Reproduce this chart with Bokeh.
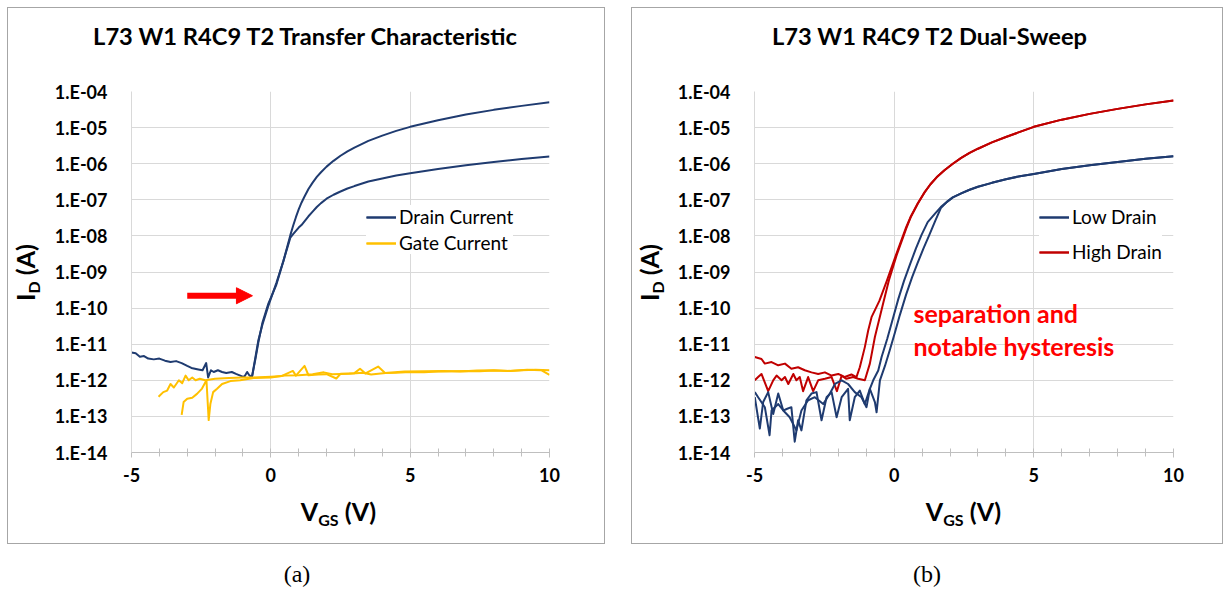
from bokeh.plotting import figure
from bokeh.models import (FixedTicker, CustomJSTickFormatter, Legend, LegendItem,
                          Label, Arrow, NormalHead, Range1d, Div, Spacer)
from bokeh.layouts import row, column
from bokeh.embed import file_html
from bokeh.resources import INLINE

# ---------------- data ----------------
x_ticks = [-5, 0, 5, 10]
x_minor_ticks = [-5, -4, -3, -2, -1, 0, 1, 2, 3, 4, 5, 6, 7, 8, 9, 10]
y_ticks = [1e-14, 1e-13, 1e-12, 1e-11, 1e-10, 1e-9, 1e-8, 1e-7, 1e-6, 1e-5, 1e-4]
y_tick_labels = ["1.E-14", "1.E-13", "1.E-12", "1.E-11", "1.E-10", "1.E-09",
                 "1.E-08", "1.E-07", "1.E-06", "1.E-05", "1.E-04"]

title_a = "L73 W1 R4C9 T2 Transfer Characteristic"
title_b = "L73 W1 R4C9 T2 Dual-Sweep"
legend_a = ["Drain Current", "Gate Current"]
legend_b = ["Low Drain", "High Drain"]
note_b = ["separation and", "notable hysteresis"]
captions = ["(a)", "(b)"]

# panel (a): drain current, upper branch
a_drain_hi_v = [-5.0, -4.85, -4.7, -4.55, -4.4, -4.2, -4.0, -3.8, -3.6, -3.4,
                -3.2, -3.0, -2.85, -2.6, -2.45, -2.32, -2.25, -2.15, -2.05, -1.9,
                -1.75, -1.6, -1.4, -1.25, -1.05, -0.95, -0.85, -0.78, -0.68, -0.55,
                -0.45, -0.3, -0.1, 0.2, 0.45, 0.7, 0.8, 0.9, 1.0, 1.1,
                1.2, 1.35, 1.5, 1.65, 1.8, 2.0, 2.25, 2.5, 2.75, 3.0,
                3.5, 4.0, 4.5, 5.0, 6.0, 7.0, 8.0, 9.0, 10.0]
a_drain_hi_i = [5.9e-12, 5.6e-12, 4.5e-12, 4.7e-12, 4.0e-12, 3.8e-12, 4.0e-12, 3.5e-12, 3.2e-12, 3.4e-12,
                3.0e-12, 2.5e-12, 2.2e-12, 2.0e-12, 1.9e-12, 3.0e-12, 1.2e-12, 1.9e-12, 1.7e-12, 1.9e-12,
                1.7e-12, 1.6e-12, 1.7e-12, 1.5e-12, 1.3e-12, 1.26e-12, 1.7e-12, 1.4e-12, 1.2e-12, 4.0e-12,
                1.1e-11, 4.0e-11, 1.26e-10, 4.5e-10, 2.0e-9, 1.05e-8, 1.9e-8, 3.3e-8, 5.4e-8, 8.3e-8,
                1.2e-7, 2.0e-7, 3.0e-7, 4.3e-7, 5.8e-7, 8.3e-7, 1.2e-6, 1.66e-6, 2.2e-6, 2.8e-6,
                4.3e-6, 6.0e-6, 8.1e-6, 1.05e-5, 1.6e-5, 2.3e-5, 3.1e-5, 4.0e-5, 5.0e-5]
# panel (a): drain current, lower branch
a_drain_lo_v = [-0.68, -0.55, -0.45, -0.3, -0.1, 0.2, 0.45, 0.7, 0.8, 0.9,
                1.0, 1.1, 1.2, 1.35, 1.5, 1.65, 1.8, 2.0, 2.25, 2.5,
                2.75, 3.0, 3.5, 4.0, 4.5, 5.0, 6.0, 7.0, 8.0, 9.0, 10.0]
a_drain_lo_i = [1.2e-12, 4.5e-12, 1.26e-11, 3.5e-11, 1.1e-10, 5.0e-10, 2.0e-9, 8.9e-9, 1.12e-8, 1.38e-8,
                1.7e-8, 2.0e-8, 2.5e-8, 3.5e-8, 4.7e-8, 6.3e-8, 8.1e-8, 1.07e-7, 1.38e-7, 1.7e-7,
                2.05e-7, 2.4e-7, 3.2e-7, 3.9e-7, 4.7e-7, 5.4e-7, 7.1e-7, 9.1e-7, 1.12e-6, 1.35e-6, 1.58e-6]
# panel (a): gate current, two sweeps
a_gate_1_v = [-4.03, -3.86, -3.72, -3.6, -3.48, -3.3, -3.18, -3.06, -2.95, -2.82,
              -2.7, -2.55, -2.35, -2.0, -1.5, -1.0, -0.62,
              0.0, 0.4, 0.79, 0.9, 1.21, 1.35, 1.7, 2.0, 2.35, 2.5,
              3.0, 3.2, 3.4, 3.85, 4.1, 4.5, 5.0, 5.5, 6.0, 6.5,
              7.0, 7.5, 8.0, 8.5, 9.0, 9.5, 10.0]
a_gate_1_i = [3.5e-13, 4.7e-13, 5.2e-13, 7.9e-13, 6.3e-13, 1.0e-12, 8.3e-13, 1.35e-12, 1.0e-12, 1.2e-12,
              1.0e-12, 1.1e-12, 1.0e-12, 1.1e-12, 1.15e-12, 1.2e-12, 1.2e-12,
              1.26e-12, 1.32e-12, 1.82e-12, 1.35e-12, 2.5e-12, 1.38e-12, 1.45e-12, 1.48e-12, 1.12e-12, 1.51e-12,
              1.58e-12, 2.1e-12, 1.55e-12, 2.4e-12, 1.6e-12, 1.62e-12, 1.7e-12, 1.66e-12, 1.74e-12, 1.78e-12,
              1.82e-12, 1.78e-12, 1.86e-12, 1.82e-12, 1.91e-12, 1.95e-12, 1.91e-12]
a_gate_2_v = [-3.2, -3.13, -3.0, -2.82, -2.65, -2.47, -2.31, -2.23, -2.17, -2.07,
              -1.93, -1.75, -1.45, -1.1, -0.62,
              0.0, 0.5, 1.0, 1.5, 1.9, 2.2, 2.8, 3.3, 3.6, 4.2,
              4.8, 5.5, 6.2, 6.8, 7.4, 8.0, 8.6, 9.2, 9.7, 10.0]
a_gate_2_i = [1.1e-13, 2.5e-13, 3.1e-13, 3.3e-13, 4.2e-13, 5.9e-13, 1.0e-12, 7.9e-14, 2.2e-13, 4.7e-13,
              5.8e-13, 7.9e-13, 9.5e-13, 1.0e-12, 1.15e-12,
              1.2e-12, 1.35e-12, 1.38e-12, 1.48e-12, 1.66e-12, 1.48e-12, 1.51e-12, 1.62e-12, 1.45e-12, 1.62e-12,
              1.74e-12, 1.78e-12, 1.82e-12, 1.74e-12, 1.86e-12, 1.91e-12, 1.82e-12, 1.95e-12, 1.91e-12, 1.41e-12]

# panel (b): high drain, two sweep directions
b_high_1_v = [-4.99, -4.75, -4.63, -4.39, -4.15, -3.91, -3.68, -3.44, -3.2, -2.96,
              -2.72, -2.48, -2.24, -2.0, -1.77, -1.53, -1.35, -1.23, -1.05, -0.93,
              -0.81, -0.53, -0.26, 0.08, 0.43, 0.6, 0.84, 1.1, 1.3, 1.52,
              1.8, 2.1, 2.4, 2.7, 3.0, 3.5, 4.0, 4.5, 5.0, 6.0, 7.0, 8.0, 9.0, 10.0]
b_high_1_i = [4.4e-12, 3.9e-12, 2.9e-12, 3.2e-12, 2.6e-12, 2.9e-12, 2.1e-12, 2.3e-12, 1.9e-12, 1.66e-12,
              1.5e-12, 1.66e-12, 1.35e-12, 1.5e-12, 1.23e-12, 1.45e-12, 1.23e-12, 2.3e-12, 8.3e-12, 2.4e-11,
              5.6e-11, 1.58e-10, 5.8e-10, 3.2e-9, 1.74e-8, 3.5e-8, 7.9e-8, 1.66e-7, 2.7e-7, 4.2e-7,
              6.6e-7, 1.0e-6, 1.45e-6, 2.0e-6, 2.6e-6, 3.9e-6, 5.5e-6, 7.6e-6, 1.05e-5, 1.66e-5, 2.4e-5, 3.3e-5, 4.4e-5, 5.6e-5]
b_high_2_v = [-4.99, -4.87, -4.75, -4.51, -4.33, -4.21, -4.03, -3.91, -3.79, -3.61,
              -3.5, -3.38, -3.26, -3.08, -2.9, -2.72, -2.48, -2.24, -2.05, -1.88,
              -1.71, -1.47, -1.29, -1.05, -0.87, -0.69, -0.4, -0.19, 0.08, 0.43,
              0.6, 0.84, 1.1, 1.3, 1.52, 1.8, 2.1, 2.4, 2.7, 3.0,
              3.5, 4.0, 4.5, 5.0, 6.0, 7.0, 8.0, 9.0, 10.0]
b_high_2_i = [1.0e-12, 1.23e-12, 1.5e-12, 5.0e-13, 1.0e-12, 1.35e-12, 1.0e-12, 1.23e-12, 7.9e-13, 1.5e-12,
              1.0e-12, 1.23e-12, 5.0e-13, 1.23e-12, 5.0e-13, 1.0e-12, 1.1e-12, 1.23e-12, 5.0e-13, 1.35e-12,
              1.1e-12, 1.23e-12, 1.1e-12, 1.0e-12, 2.9e-12, 1.58e-11, 1.3e-10, 5.8e-10, 2.8e-9, 1.58e-8,
              3.4e-8, 7.6e-8, 1.66e-7, 2.7e-7, 4.2e-7, 6.6e-7, 1.0e-6, 1.45e-6, 2.0e-6, 2.6e-6,
              3.9e-6, 5.5e-6, 7.6e-6, 1.05e-5, 1.66e-5, 2.4e-5, 3.3e-5, 4.4e-5, 5.6e-5]
# panel (b): low drain, two sweep directions
b_low_1_v = [-4.99, -4.81, -4.69, -4.51, -4.33, -4.15, -3.97, -3.85, -3.68, -3.56,
             -3.44, -3.32, -3.14, -2.96, -2.78, -2.6, -2.42, -2.24, -2.06, -1.88,
             -1.65, -1.59, -1.41, -1.23, -1.05, -0.87, -0.69, -0.63,
             -0.51, -0.33, -0.15, 0.02, 0.2, 0.43, 0.64, 0.84, 1.05, 1.26, 1.47, 1.67,
             1.9, 2.1, 2.4, 2.7, 3.0, 3.5, 4.0, 4.5, 5.0, 6.0, 7.0, 8.0, 9.0, 10.0]
b_low_1_i = [3.4e-13, 4.6e-14, 2.5e-13, 4.7e-13, 1.17e-13, 4.3e-13, 1.45e-13, 1.6e-13, 1.8e-13, 2.0e-14,
             7.8e-14, 4.1e-14, 2.8e-13, 4.3e-13, 4.7e-13, 7.8e-14, 3.4e-13, 4.7e-13, 9.5e-14, 3.4e-13,
             5.8e-13, 7.8e-14, 3.4e-13, 5.2e-13, 2.2e-13, 5.8e-13, 2.5e-13, 1.3e-13,
             1.0e-12, 2.5e-12, 7.1e-12, 2.0e-11, 6.3e-11, 2.4e-10, 7.1e-10, 1.78e-9, 4.5e-9, 1.07e-8, 2.6e-8, 5.9e-8,
             8.9e-8, 1.17e-7, 1.5e-7, 1.9e-7, 2.3e-7, 2.95e-7, 3.7e-7, 4.5e-7, 5.2e-7, 7.1e-7, 9.1e-7, 1.12e-6, 1.38e-6, 1.62e-6]
b_low_2_v = [-4.99, -4.87, -4.63, -4.46, -4.39, -4.15, -3.91, -3.74, -3.5, -3.32,
             -3.08, -2.84, -2.54, -2.3, -2.12, -1.88, -1.65, -1.41, -1.17, -0.99,
             -0.87, -0.75,
             -0.57, -0.45, -0.25, -0.05, 0.15, 0.35, 0.57, 0.78, 0.98, 1.2, 1.47, 1.67,
             1.9, 2.1, 2.4, 2.7, 3.0, 3.5, 4.0, 4.5, 5.0, 6.0, 7.0, 8.0, 9.0, 10.0]
b_low_2_i = [4.7e-13, 3.4e-13, 1.8e-13, 3.0e-14, 1.45e-13, 2.2e-13, 1.3e-13, 9.5e-14, 4.1e-14, 1.45e-13,
             2.8e-13, 3.4e-13, 2.2e-13, 4.3e-13, 7.9e-13, 1.0e-12, 7.9e-13, 4.7e-13, 3.4e-13, 1.8e-13,
             5.8e-13, 1.0e-12,
             1.86e-12, 4.4e-12, 1.4e-11, 5.0e-11, 1.8e-10, 5.6e-10, 1.66e-9, 4.5e-9, 1.07e-8, 2.4e-8, 4.2e-8, 6.3e-8,
             8.9e-8, 1.17e-7, 1.5e-7, 1.9e-7, 2.3e-7, 2.95e-7, 3.7e-7, 4.5e-7, 5.2e-7, 7.1e-7, 9.1e-7, 1.12e-6, 1.38e-6, 1.62e-6]

# ---------------- style ----------------
FONT = "Lato"
NAVY = "#1F3B70"
GOLD = "#FFC000"
DARKRED = "#C00000"
RED = "#FF0000"
GRID = "#D9D9D9"
AXIS = "#BFBFBF"
BORDER = "#A6A6A6"
BLACK = "#000000"


def make_plot(frame_w, left, right):
    p = figure(frame_width=frame_w, frame_height=361,
               x_range=Range1d(-5, 10), y_range=Range1d(1e-14, 1e-4),
               y_axis_type="log", output_backend="svg", toolbar_location=None,
               min_border_left=left, min_border_right=right,
               min_border_top=31, min_border_bottom=40,
               background_fill_color="white", border_fill_color="white",
               outline_line_color=None, margin=0)

    xa = p.xaxis[0]
    xa.ticker = FixedTicker(ticks=x_ticks, minor_ticks=x_minor_ticks)
    xa.formatter = CustomJSTickFormatter(code="return String(Math.round(tick));")
    xa.axis_line_color = AXIS
    xa.major_tick_line_color = AXIS
    xa.minor_tick_line_color = AXIS
    xa.major_tick_in = 0
    xa.major_tick_out = 5
    xa.minor_tick_in = 4
    xa.minor_tick_out = 4
    xa.major_label_standoff = 10
    xa.major_label_text_font = FONT
    xa.major_label_text_font_size = "18px"
    xa.major_label_text_font_style = "bold"
    xa.major_label_text_color = BLACK

    ya = p.yaxis[0]
    ya.ticker = FixedTicker(ticks=y_ticks, minor_ticks=[])
    ya.formatter = CustomJSTickFormatter(
        args=dict(labels=y_tick_labels),
        code="const e = Math.round(Math.log10(tick)); return labels[e + 14];")
    ya.axis_line_color = GRID
    ya.major_tick_line_color = None
    ya.minor_tick_line_color = None
    ya.major_label_standoff = 18
    ya.major_label_text_font = FONT
    ya.major_label_text_font_size = "18px"
    ya.major_label_text_font_style = "bold"
    ya.major_label_text_color = BLACK

    p.xgrid.grid_line_color = GRID
    p.ygrid.grid_line_color = GRID
    p.ygrid.minor_grid_line_color = None
    return p


def style_legend(leg, spacing):
    leg.background_fill_color = "white"
    leg.background_fill_alpha = 1.0
    leg.border_line_color = None
    leg.label_text_font = FONT
    leg.label_text_font_size = "19px"
    leg.label_text_color = BLACK
    leg.glyph_width = 30
    leg.glyph_height = 20
    leg.label_height = 20
    leg.label_standoff = 3
    leg.padding = 5
    leg.spacing = spacing
    leg.margin = 0


def panel(plot, title, inner_w, ylab_w, title_pad, xlab_pad):
    t = Div(text=('<div style="width:%dpx;height:52px;box-sizing:border-box;padding-top:14px;'
                  'padding-left:%dpx;text-align:center;font-family:Lato;font-weight:bold;'
                  'font-size:23.7px;line-height:28px;color:#000;white-space:nowrap;">%s</div>')
            % (inner_w, title_pad, title), width=inner_w, height=52, margin=0)
    yl = Div(text=('<div style="width:%dpx;height:432px;box-sizing:border-box;padding-bottom:8px;'
                   'display:flex;align-items:center;justify-content:center;">'
                   '<div style="flex:none;transform:rotate(-90deg);white-space:nowrap;font-family:Lato;'
                   'font-weight:bold;font-size:25px;line-height:30px;color:#000;">'
                   'I<span style="font-size:16px;vertical-align:-5px;">D</span> (A)</div></div>') % ylab_w,
             width=ylab_w, height=432, margin=0)
    xl = Div(text=('<div style="width:%dpx;height:51px;box-sizing:border-box;padding-top:3px;'
                   'padding-left:%dpx;text-align:center;font-family:Lato;font-weight:bold;'
                   'font-size:25px;line-height:32px;color:#000;white-space:nowrap;">'
                   'V<span style="font-size:16px;vertical-align:-5px;">GS</span> (V)</div>')
             % (inner_w, xlab_pad), width=inner_w, height=51, margin=0)
    return column(t, row(yl, plot, spacing=0, margin=0), xl, spacing=0, margin=0,
                  styles={"border": "1px solid " + BORDER})


def caption(text, w, pad_right):
    return Div(text=('<div style="width:%dpx;box-sizing:border-box;padding-top:16px;padding-right:%dpx;'
                     'text-align:center;font-family:\'Liberation Serif\';font-size:24px;line-height:28px;'
                     'color:#000;">%s</div>') % (w, pad_right, text), width=w, height=49, margin=0)


# ---------- panel (a) ----------
pa = make_plot(418, 78, 55)
r_d1 = pa.line(a_drain_hi_v, a_drain_hi_i, line_color=NAVY, line_width=2, line_join="round")
r_d2 = pa.line(a_drain_lo_v, a_drain_lo_i, line_color=NAVY, line_width=2, line_join="round")
r_g1 = pa.line(a_gate_1_v, a_gate_1_i, line_color=GOLD, line_width=2, line_join="round")
r_g2 = pa.line(a_gate_2_v, a_gate_2_i, line_color=GOLD, line_width=2, line_join="round")
leg_a = Legend(items=[LegendItem(label=legend_a[0], renderers=[r_d1, r_d2]),
                      LegendItem(label=legend_a[1], renderers=[r_g1, r_g2])],
               location=(235, 198))
style_legend(leg_a, 3)
pa.add_layout(leg_a, "center")
pa.add_layout(Arrow(end=NormalHead(size=16, fill_color=RED, line_color=RED),
                    x_start=-3.0, y_start=2.2e-10, x_end=-0.66, y_end=2.2e-10,
                    line_color=RED, line_width=6))

# ---------- panel (b) ----------
pb = make_plot(419, 80, 49)
r_h1 = pb.line(b_high_1_v, b_high_1_i, line_color=DARKRED, line_width=2, line_join="round")
r_h2 = pb.line(b_high_2_v, b_high_2_i, line_color=DARKRED, line_width=2, line_join="round")
r_l1 = pb.line(b_low_1_v, b_low_1_i, line_color=NAVY, line_width=2, line_join="round")
r_l2 = pb.line(b_low_2_v, b_low_2_i, line_color=NAVY, line_width=2, line_join="round")
leg_b = Legend(items=[LegendItem(label=legend_b[0], renderers=[r_l1, r_l2]),
                      LegendItem(label=legend_b[1], renderers=[r_h1, r_h2])],
               location=(285, 189))
style_legend(leg_b, 12)
pb.add_layout(leg_b, "center")
pb.add_layout(Label(x=0.69, y=10 ** -10.55, text=note_b[0], text_font=FONT, text_font_size="25px",
                    text_font_style="bold", text_color=RED))
pb.add_layout(Label(x=0.69, y=10 ** -11.47, text=note_b[1], text_font=FONT, text_font_size="25px",
                    text_font_style="bold", text_color=RED))

panel_a = panel(pa, title_a, 594, 43, 0, 67)
panel_b = panel(pb, title_b, 590, 42, 5, 73)

layout = row(Spacer(width=7, height=593, margin=0),
             column(Spacer(width=596, height=7, margin=0), panel_a, caption(captions[0], 596, 16),
                    spacing=0, margin=0),
             Spacer(width=26, height=593, margin=0),
             column(Spacer(width=592, height=7, margin=0), panel_b, caption(captions[1], 592, 0),
                    spacing=0, margin=0),
             spacing=0, margin=0)

open("out.html", "w").write(file_html(layout, INLINE))
